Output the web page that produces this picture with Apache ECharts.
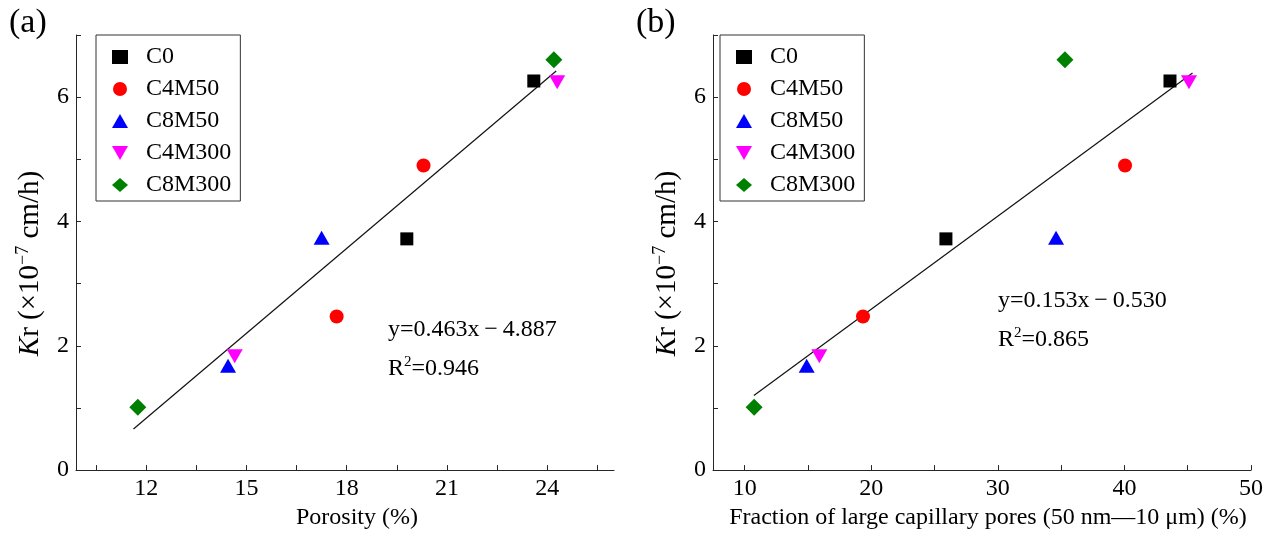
<!DOCTYPE html>
<html>
<head>
<meta charset="utf-8">
<script src="https://cdn.jsdelivr.net/npm/echarts@6.0.0/dist/echarts.min.js"></script>
<style>
  html, body { margin: 0; padding: 0; background: #fff; }
  #chart { width: 1270px; height: 535px; }
</style>
</head>
<body>
<div id="chart"></div>
<script>
// sample names (legend order)
const sampleNames = ['C0', 'C4M50', 'C8M50', 'C4M300', 'C8M300'];
const sampleColors = ['#000000', '#ff0000', '#0000ff', '#ff00ff', '#008000'];
const sampleSymbols = ['rect', 'circle', 'triangle', 'path://M0,0L16,0L8,14Z', 'diamond'];
const sampleSizes = [13, 14, [16, 14], [16, 14], 17];

// Kr (x10^-7 cm/h), two specimens per sample
const krValues = [
  [3.72, 6.26],
  [2.47, 4.90],
  [1.68, 3.74],
  [1.83, 6.24],
  [1.01, 6.60]
];
// porosity (%) for panel (a)
const porosityValues = [
  [19.8, 23.6],
  [17.7, 20.3],
  [14.45, 17.25],
  [14.65, 24.3],
  [11.75, 24.2]
];
// fraction of large capillary pores (%) for panel (b)
const poreFractionValues = [
  [25.9, 43.6],
  [19.35, 40.05],
  [14.9, 34.6],
  [15.9, 45.1],
  [10.75, 35.3]
];

// fitted lines, end points as drawn
const fitLineA = [[11.62, 0.66], [24.27, 6.42]];
const fitLineB = [[10.73, 1.20], [45.38, 6.39]];

// ticks
const xTicksA = [12, 15, 18, 21, 24];
const xMinorA = [10.5, 13.5, 16.5, 19.5, 22.5, 25.5];
const xTicksB = [10, 20, 30, 40, 50];
const xMinorB = [15, 25, 35, 45];
const yTicks = [0, 2, 4, 6];
const yMinor = [1, 3, 5, 7];

const eqTextA = ['y=0.463x\u2009\u2212\u20094.887', 'R{s|2}=0.946'];
const eqTextB = ['y=0.153x\u2009\u2212\u20090.530', 'R{s|2}=0.865'];

const FONT = '"Liberation Serif", "Times New Roman", serif';
const AXIS_COLOR = '#262626';

const chart = echarts.init(document.getElementById('chart'));

function xAxisOf(grid, min, max, ticks, minor, name, namePad) {
  return {
    gridIndex: grid, type: 'value', min: min, max: max,
    axisLine: { show: true, onZero: false, lineStyle: { color: AXIS_COLOR, width: 1 } },
    axisTick: { show: true, inside: true, length: 5, customValues: ticks.concat(minor).sort((a, b) => a - b), lineStyle: { color: AXIS_COLOR } },
    axisLabel: { customValues: ticks, fontSize: 24, fontFamily: FONT, color: '#000', margin: 7 },
    splitLine: { show: false },
    name: name, nameLocation: 'middle', nameGap: 28,
    nameTextStyle: { fontSize: 24, fontFamily: FONT, color: '#000', padding: namePad }
  };
}

function yAxisOf(grid) {
  return {
    gridIndex: grid, type: 'value', min: 0, max: 7,
    axisLine: { show: true, onZero: false, lineStyle: { color: AXIS_COLOR, width: 1 } },
    axisTick: { show: true, inside: true, length: 5, customValues: yTicks.concat(yMinor).sort((a, b) => a - b), lineStyle: { color: AXIS_COLOR } },
    axisLabel: { customValues: yTicks, fontSize: 24, fontFamily: FONT, color: '#000', margin: 7 },
    splitLine: { show: false },
    name: '{i|K}r (\u00d710{s|\u22127} cm/h)',
    nameLocation: 'middle', nameRotate: 90, nameGap: 30,
    nameTextStyle: {
      fontSize: 29, fontFamily: FONT, color: '#000',
      padding: [0, 22, 0, 0],
      rich: {
        i: { fontSize: 29, fontFamily: FONT, fontStyle: 'italic', color: '#000' },
        s: { fontSize: 18, fontFamily: FONT, color: '#000', padding: [0, 0, 14, 0] }
      }
    }
  };
}

function legendOf(left) {
  return {
    data: sampleNames, orient: 'vertical', left: left, top: 35,
    itemWidth: 16, itemHeight: 14, itemGap: 8,
    padding: [10, 9, 4, 16],
    borderColor: '#333', borderWidth: 1,
    textStyle: { fontSize: 24, fontFamily: FONT, color: '#000', lineHeight: 24, padding: [0, 0, 0, 13] }
  };
}

const series = [];
[[porosityValues, fitLineA], [poreFractionValues, fitLineB]].forEach(([xs, fit], p) => {
  sampleNames.forEach((name, i) => {
    series.push({
      type: 'scatter', name: name, xAxisIndex: p, yAxisIndex: p,
      symbol: sampleSymbols[i],
      symbolSize: sampleSizes[i],
      itemStyle: { color: sampleColors[i], opacity: 1 },
      data: xs[i].map((x, k) => [x, krValues[i][k]]),
      z: 3
    });
  });
  series.push({
    type: 'line', name: 'fit' + p, xAxisIndex: p, yAxisIndex: p,
    data: fit, showSymbol: false, symbol: 'none', silent: true,
    lineStyle: { color: '#111', width: 1.2 }, z: 2
  });
});

function eqGraphic(x, y, lines) {
  return lines.map((t, k) => ({
    type: 'text', left: x, top: y + k * 37,
    style: {
      text: t, fontSize: 24, fontFamily: FONT, fill: '#000',
      rich: { s: { fontSize: 15, fontFamily: FONT, fill: '#000', padding: [0, 0, 12, 0] } }
    }
  }));
}

const option = {
  backgroundColor: '#fff',
  animation: false,
  grid: [
    { left: 76, top: 35, width: 538, height: 443 },
    { left: 713, top: 35, width: 538, height: 443 }
  ],
  xAxis: [
    xAxisOf(0, 9.9, 26, xTicksA, xMinorA, 'Porosity (%)', [0, 0, 0, 24]),
    xAxisOf(1, 7.5, 50, xTicksB, xMinorB, 'Fraction of large capillary pores (50 nm\u201410 \u03bcm) (%)', [0, 0, 0, 12])
  ],
  yAxis: [yAxisOf(0), yAxisOf(1)],
  legend: [legendOf(96), legendOf(720)],
  series: series,
  graphic: [
    { type: 'text', left: 9, top: 6, style: { text: '(a)', fontSize: 34, fontFamily: FONT, fill: '#000' } },
    { type: 'text', left: 636, top: 6, style: { text: '(b)', fontSize: 34, fontFamily: FONT, fill: '#000' } }
  ].concat(eqGraphic(388, 318, eqTextA), eqGraphic(998, 289, eqTextB))
};

chart.setOption(option);
</script>
</body>
</html>
